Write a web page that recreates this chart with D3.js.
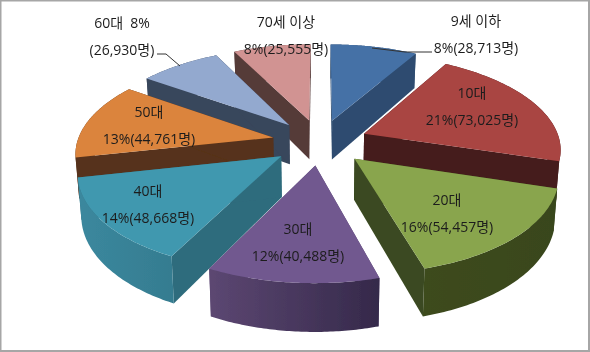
<!DOCTYPE html>
<html>
<head>
<meta charset="utf-8">
<script src="https://cdn.jsdelivr.net/npm/d3@7"></script>
<style>
  html, body { margin: 0; padding: 0; background: #fff; }
  svg { display: block; }
  text { font-family: "Open Sans", "Noto Sans CJK KR", sans-serif; font-size: 14px; fill: #1c1c1c; text-anchor: middle; white-space: pre; }
</style>
</head>
<body>
<svg width="590" height="352"></svg>
<script>
const categories = ['9세 이하', '10대', '20대', '30대', '40대', '50대', '60대', '70세 이상'];
const people = [28713, 73025, 54457, 40488, 48668, 44761, 26930, 25555];
const percents = [8, 21, 16, 12, 14, 13, 8, 8];

const topColors = ['#4571a6', '#a94442', '#89a54e', '#71588f', '#4198af', '#db843d', '#93a9cf', '#d19392'];
const cutColors = ['#2e4c70', '#451b1a', '#3a4a20', '#5a4672', '#2f6c7d', '#57321a', '#39465b', '#553a39'];
const rimLeft = ['#2e4c70', '#451b1a', '#3d4b1f', '#5c4772', '#3b889e', '#57321a', '#39465b', '#553a39'];
const rimRight = ['#2e4c70', '#451b1a', '#39461c', '#35294a', '#357c90', '#57321a', '#39465b', '#553a39'];

// where the labels sit, same order as categories
const labelX = [476, 472, 447, 298, 148, 149, 122, 286];
const labelY = [21, 93, 200, 229, 191, 112, 23, 22];
const lineGap = 27;

const svg = d3.select('svg');
const width = +svg.attr('width');
const height = +svg.attr('height');

// tilted pie: flat (u, v) with v towards the viewer, z going down the wall
const cx = 320, cy = 142, radius = 196, tilt = 93, persp = 0.145, explode = 0.245, depth = 40;

const project = (u, v, z) => {
  const s = 1 / (1 - persp * v);
  return [
    cx + radius * u * s * (1 - 0.015 * z),
    cy + s * (tilt * v + depth * z)
  ];
};

const slices = d3.pie().sort(null)(people).map((d, i) => {
  const mid = (d.startAngle + d.endAngle) / 2;
  return {...d, i, mid, ou: explode * Math.sin(mid), ov: -explode * Math.cos(mid)};
});

const rimPoint = (d, a, z) => project(d.ou + Math.sin(a), d.ov - Math.cos(a), z);
const apex = (d, z) => project(d.ou, d.ov, z);
const rimAngles = d => d3.range(0, 61).map(t => d.startAngle + (d.endAngle - d.startAngle) * t / 60);
const path = d3.line();

const defs = svg.append('defs');
defs.append('filter').attr('id', 'soft')
  .append('feGaussianBlur').attr('stdDeviation', 0.4);
defs.append('filter').attr('id', 'softText')
  .append('feGaussianBlur').attr('stdDeviation', 0.3);

svg.append('rect')
  .attr('x', 0.5).attr('y', 0.5)
  .attr('width', width - 1.5).attr('height', height - 1.5)
  .attr('fill', '#fff').attr('stroke', '#a6a6a6').attr('stroke-width', 2);

const chart = svg.append('g').attr('filter', 'url(#soft)');

// back slices first so the front ones cover them
slices.slice().sort((a, b) => a.ov - b.ov).forEach(d => {
  const g = chart.append('g');
  const angles = rimAngles(d);
  const i = d.i;

  const grad = defs.append('linearGradient').attr('id', `rim${i}`)
    .attr('gradientUnits', 'objectBoundingBox');
  grad.append('stop').attr('offset', 0).attr('stop-color', rimLeft[i]);
  grad.append('stop').attr('offset', 1).attr('stop-color', rimRight[i]);

  [d.startAngle, d.endAngle].forEach(a => {
    g.append('path')
      .attr('d', path([apex(d, 0), rimPoint(d, a, 0), rimPoint(d, a, 1), apex(d, 1)]) + 'Z')
      .attr('fill', cutColors[i]);
  });

  const wall = angles.map(a => rimPoint(d, a, 0))
    .concat(angles.slice().reverse().map(a => rimPoint(d, a, 1)));
  g.append('path')
    .attr('d', path(wall) + 'Z')
    .attr('fill', `url(#rim${i})`);

  const top = [apex(d, 0)].concat(angles.map(a => rimPoint(d, a, 0)));
  g.append('path')
    .attr('d', path(top) + 'Z')
    .attr('fill', topColors[i]);
});

// leader lines
const leaders = [
  [[372, 48], [405, 52], [432, 52]],
  [[157, 54], [166, 54], [180, 66]]
];
leaders.forEach(pts => {
  chart.append('path')
    .attr('d', path(pts))
    .attr('fill', 'none')
    .attr('stroke', '#333')
    .attr('stroke-width', 1);
});

const fmt = d3.format(',');
const labels = svg.append('g').attr('filter', 'url(#softText)');
categories.forEach((c, i) => {
  const count = `(${fmt(people[i])}명)`;
  const first = c === '60대' ? `${c}  ${percents[i]}%` : c;
  const second = c === '60대' ? count : `${percents[i]}%${count}`;
  labels.append('text').attr('x', labelX[i]).attr('y', labelY[i] + 5).text(first);
  labels.append('text').attr('x', labelX[i]).attr('y', labelY[i] + lineGap + 5).text(second);
});
</script>
</body>
</html>
